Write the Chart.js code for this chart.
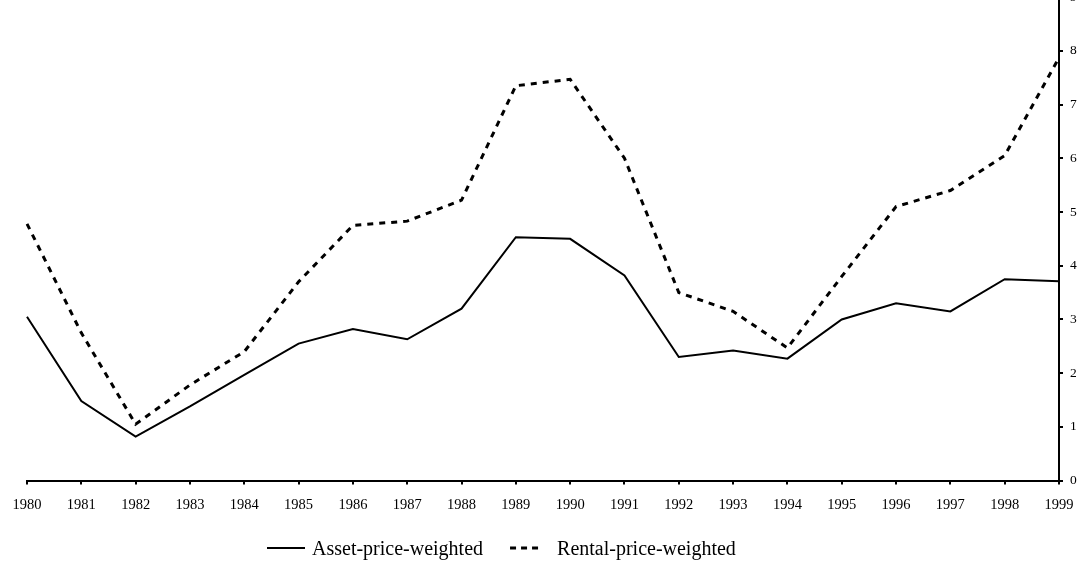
<!DOCTYPE html>
<html>
<head>
<meta charset="utf-8">
<script src="https://cdn.jsdelivr.net/npm/chart.js@4/dist/chart.umd.min.js"></script>
<style>
  html, body { margin: 0; padding: 0; background: #fff; }
  #wrap { position: relative; width: 1079px; height: 568px; overflow: hidden; }
  #chart { position: absolute; left: 0; top: -18px; }
</style>
</head>
<body>
<div id="wrap"><canvas id="chart" width="1079" height="586"></canvas></div>
<script>
// Years on the x axis
const years = ["1980", "1981", "1982", "1983", "1984", "1985", "1986", "1987", "1988", "1989",
               "1990", "1991", "1992", "1993", "1994", "1995", "1996", "1997", "1998", "1999"];

// Series
const assetWeighted = [3.05, 1.48, 0.82, 1.38, 1.97, 2.55, 2.82, 2.63, 3.2, 4.53,
                       4.5, 3.82, 2.3, 2.42, 2.27, 3.0, 3.3, 3.15, 3.75, 3.71];
const rentalWeighted = [4.78, 2.75, 1.05, 1.78, 2.4, 3.7, 4.75, 4.83, 5.22, 7.35,
                        7.47, 6.0, 3.5, 3.15, 2.47, 3.8, 5.1, 5.4, 6.05, 7.87];

// Right axis ticks
const yTicks = [0, 1, 2, 3, 4, 5, 6, 7, 8, 9];

const serif = "'Liberation Serif', 'Times New Roman', serif";

// legend drawn by hand so the dashed sample keeps its dashes
const bottomLegend = {
    id: 'bottomLegend',
    afterDraw(chart) {
        const ctx = chart.ctx;
        const y = 566;
        // sample length and gap to text for each entry
        const samples = [{ len: 38, gap: 7, dash: [] }, { len: 29, gap: 18, dash: [6, 5] }];
        ctx.save();
        ctx.font = '20px ' + serif;
        ctx.fillStyle = '#000';
        ctx.strokeStyle = '#000';
        ctx.textBaseline = 'middle';
        let x = 267;
        chart.data.datasets.forEach((ds, i) => {
            const s = samples[i];
            ctx.beginPath();
            ctx.setLineDash(s.dash);
            ctx.lineWidth = ds.borderWidth;
            ctx.moveTo(x, y);
            ctx.lineTo(x + s.len, y);
            ctx.stroke();
            ctx.setLineDash([]);
            x += s.len + s.gap;
            ctx.fillText(ds.label, x, y + 2);
            x += ctx.measureText(ds.label).width + 27;
        });
        ctx.restore();
    }
};

const chart = new Chart(document.getElementById('chart'), {
    type: 'line',
    data: {
        labels: years,
        datasets: [{
            label: 'Asset-price-weighted',
            data: assetWeighted,
            borderColor: '#000',
            borderWidth: 2,
            pointRadius: 0,
            tension: 0,
            fill: false
        }, {
            label: 'Rental-price-weighted',
            data: rentalWeighted,
            borderColor: '#000',
            borderWidth: 3,
            borderDash: [6, 6],
            pointRadius: 0,
            tension: 0,
            fill: false
        }]
    },
    options: {
        responsive: false,
        animation: false,
        layout: { padding: { left: 27, right: 0, top: 10, bottom: 42 } },
        scales: {
            x: {
                offset: false,
                afterFit: axis => { axis.paddingLeft = 0; axis.paddingRight = 0; },
                border: { display: true, color: '#000', width: 2 },
                grid: { drawOnChartArea: false, drawTicks: true, tickLength: 4, color: '#000', lineWidth: 2 },
                ticks: { color: '#000', font: { family: serif, size: 14.5 }, padding: 12, maxRotation: 0, autoSkip: false }
            },
            y: {
                position: 'right',
                min: 0,
                max: 9,
                afterBuildTicks: axis => { axis.ticks = yTicks.map(v => ({ value: v })); },
                afterFit: axis => { axis.width = 20; },
                border: { display: true, color: '#000', width: 2 },
                grid: { drawOnChartArea: false, drawTicks: true, tickLength: 4, color: '#000', lineWidth: 2 },
                ticks: { color: '#000', font: { family: serif, size: 13.5 }, padding: 7 }
            }
        },
        plugins: {
            legend: { display: false },
            tooltip: { enabled: false }
        }
    },
    plugins: [bottomLegend]
});
</script>
</body>
</html>
